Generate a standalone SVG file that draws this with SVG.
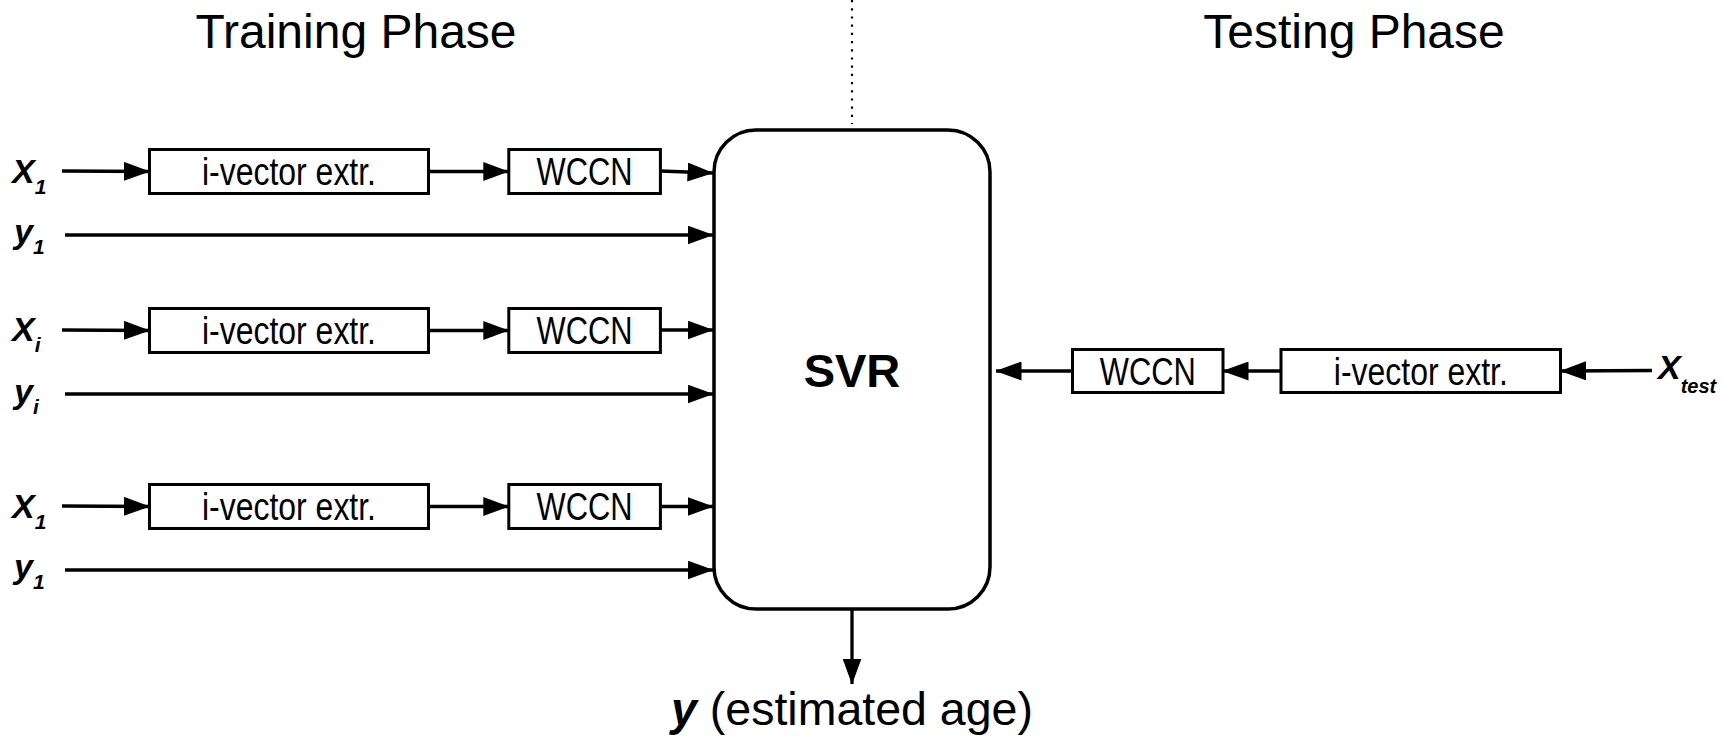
<svg xmlns="http://www.w3.org/2000/svg" width="1723" height="736" viewBox="0 0 1723 736">
<style>
.box{fill:#fff;stroke:#000;stroke-width:3}
.svr{fill:#fff;stroke:#000;stroke-width:3.5}
.bt{font-family:"Liberation Sans",Arial,sans-serif;font-size:38px;text-anchor:middle;fill:#000}
.title{font-family:"Liberation Sans",Arial,sans-serif;font-size:48px;text-anchor:middle;fill:#000}
.lbl{font-family:"Liberation Sans",Arial,sans-serif;font-size:34px;font-weight:bold;font-style:italic;fill:#000}
.sub{font-size:21px}
.conn line{stroke:#000;stroke-width:3.3;marker-end:url(#ah)}
</style>
<defs>
<marker id="ah" markerUnits="userSpaceOnUse" markerWidth="26" markerHeight="19" viewBox="0 0 26 19" refX="25.5" refY="9.5" orient="auto">
<path d="M0,0 L26,9.5 L0,19 z" fill="#000"/>
</marker>
</defs>
<rect width="1723" height="736" fill="#fff"/>
<g id="titles">
<text class="title" x="356" y="48">Training Phase</text>
<text class="title" x="1354" y="48">Testing Phase</text>
</g>
<line x1="852" y1="0" x2="852" y2="124" stroke="#000" stroke-width="2.2" stroke-dasharray="2.2 6"/>
<g id="svr">
<rect class="svr" x="714" y="130" width="276" height="479" rx="42" ry="42"/>
<text x="852" y="387" font-family="Liberation Sans,Arial,sans-serif" font-size="47" font-weight="bold" text-anchor="middle">SVR</text>
</g>
<g id="inputs">
<text class="lbl" x="12" y="183">X<tspan class="sub" dy="11">1</tspan></text>
<text class="lbl" x="14" y="243">y<tspan class="sub" dy="11">1</tspan></text>
<text class="lbl" x="12" y="341">X<tspan class="sub" dy="11">i</tspan></text>
<text class="lbl" x="14" y="402.5">y<tspan class="sub" dy="11">i</tspan></text>
<text class="lbl" x="12" y="518">X<tspan class="sub" dy="11">1</tspan></text>
<text class="lbl" x="14" y="578">y<tspan class="sub" dy="11">1</tspan></text>
<text class="lbl" x="1658" y="379">X<tspan font-size="20" dy="14">test</tspan></text>
</g>
<g id="iv1"><rect class="box" x="149.5" y="149.5" width="279" height="44"/><text class="bt" x="289" y="185" textLength="174" lengthAdjust="spacingAndGlyphs">i-vector extr.</text></g>
<g id="wc1"><rect class="box" x="508.8" y="149.5" width="151.6" height="44"/><text class="bt" x="584.6" y="185" textLength="96" lengthAdjust="spacingAndGlyphs">WCCN</text></g>
<g id="iv2"><rect class="box" x="149.5" y="308.5" width="279" height="44"/><text class="bt" x="289" y="344" textLength="174" lengthAdjust="spacingAndGlyphs">i-vector extr.</text></g>
<g id="wc2"><rect class="box" x="508.8" y="308.5" width="151.6" height="44"/><text class="bt" x="584.6" y="344" textLength="96" lengthAdjust="spacingAndGlyphs">WCCN</text></g>
<g id="iv3"><rect class="box" x="149.5" y="484.5" width="279" height="44"/><text class="bt" x="289" y="520" textLength="174" lengthAdjust="spacingAndGlyphs">i-vector extr.</text></g>
<g id="wc3"><rect class="box" x="508.8" y="484.5" width="151.6" height="44"/><text class="bt" x="584.6" y="520" textLength="96" lengthAdjust="spacingAndGlyphs">WCCN</text></g>
<g id="ivt"><rect class="box" x="1281" y="349.5" width="279.5" height="43"/><text class="bt" x="1420.8" y="384.5" textLength="174" lengthAdjust="spacingAndGlyphs">i-vector extr.</text></g>
<g id="wct"><rect class="box" x="1072.5" y="349.5" width="150.5" height="43"/><text class="bt" x="1147.8" y="384.5" textLength="96" lengthAdjust="spacingAndGlyphs">WCCN</text></g>
<g id="out"><text x="852" y="725" font-family="Liberation Sans,Arial,sans-serif" font-size="46.5" text-anchor="middle"><tspan font-weight="bold" font-style="italic">y</tspan> (estimated age)</text></g>
<g class="conn" id="connectors">
<line x1="62" y1="171" x2="149.5" y2="171.5"/>
<line x1="428.6" y1="171.5" x2="508.8" y2="171.5"/>
<line x1="660.4" y1="171" x2="713" y2="173"/>
<line x1="65" y1="235" x2="713" y2="235"/>
<line x1="62" y1="330" x2="149.5" y2="330.5"/>
<line x1="428.6" y1="330.5" x2="508.8" y2="330.5"/>
<line x1="660.4" y1="330" x2="713" y2="330"/>
<line x1="65" y1="394" x2="713" y2="394"/>
<line x1="62" y1="506" x2="149.5" y2="506.5"/>
<line x1="428.6" y1="506.5" x2="508.8" y2="506.5"/>
<line x1="660.4" y1="506.5" x2="713" y2="506.5"/>
<line x1="65" y1="570" x2="713" y2="570"/>
<line x1="1652" y1="370.5" x2="1560.5" y2="371"/>
<line x1="1281" y1="371" x2="1223" y2="371"/>
<line x1="1072.5" y1="371" x2="996" y2="371"/>
<line x1="852" y1="609" x2="852" y2="684"/>
</g>
</svg>
